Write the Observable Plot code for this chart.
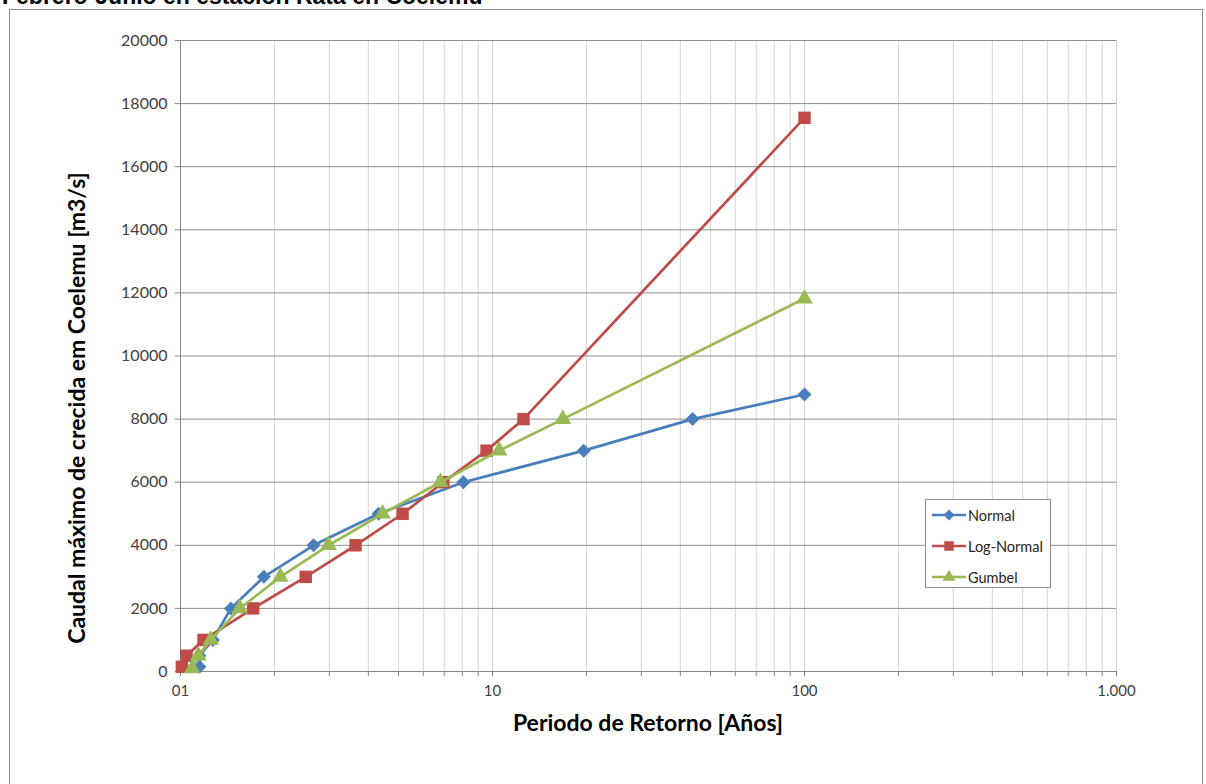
<!DOCTYPE html>
<html>
<head>
<meta charset="utf-8">
<script src="https://cdn.jsdelivr.net/npm/d3@7"></script>
<script src="https://cdn.jsdelivr.net/npm/@observablehq/plot@0.6"></script>
<style>
  html, body { margin: 0; padding: 0; background: #fff; overflow: hidden; }
  body { width: 1206px; height: 784px; position: relative; font-family: Lato, "Open Sans", sans-serif; }
  #title { position: absolute; left: 2px; top: -15px; font: bold 23px "Liberation Sans", Arial, sans-serif; color: #000; white-space: nowrap; line-height: 1; }
  #frame { position: absolute; left: 9px; top: 9px; width: 1194px; height: 800px; border: 1px solid #8c8c8c; box-sizing: border-box; background: #fff; }
  #chart { position: absolute; left: 0; top: 0; }
  #xtitle { position: absolute; left: 648px; top: 722px; transform: translate(-50%, -50%); font: bold 23px Lato, sans-serif; color: #000; white-space: nowrap; }
  #ytitle { position: absolute; left: 76px; top: 408px; transform: translate(-50%, -50%) rotate(-90deg); font: bold 23px Lato, sans-serif; color: #000; white-space: nowrap; }
  #legend { position: absolute; left: 925px; top: 499px; width: 126px; height: 89px; border: 1px solid #8c8c8c; box-sizing: border-box; background: #fff; }
  .lrow { position: absolute; left: 6px; height: 20px; display: flex; align-items: center; font: 14.5px Lato, sans-serif; color: #262626; }
  .lrow svg { margin-right: 2px; }
</style>
</head>
<body>
<div id="title">Febrero-Junio en estación Rata en Coelemu</div>
<div id="frame"></div>
<div id="chart"></div>
<div id="xtitle">Periodo de Retorno [Años]</div>
<div id="ytitle">Caudal máximo de crecida em Coelemu [m3/s]</div>
<div id="legend"></div>
<script>
// ---- data ----
const seriesNames = ["Normal", "Log-Normal", "Gumbel"];
const seriesColors = ["#4a7ebb", "#be4b48", "#98b954"];
const seriesSymbols = ["diamond2", "square", "triangle"];

const normalT = [1.15, 1.15, 1.27, 1.45, 1.85, 2.67, 4.31, 8.07, 19.6, 43.8, 100];
const normalQ = [150, 500, 1000, 2000, 3000, 4000, 5000, 6000, 7000, 8000, 8780];

const logNormalT = [1.01, 1.045, 1.185, 1.71, 2.52, 3.64, 5.15, 6.96, 9.57, 12.57, 100];
const logNormalQ = [150, 500, 1000, 2000, 3000, 4000, 5000, 6000, 7000, 8000, 17550];

const gumbelT = [1.09, 1.14, 1.25, 1.55, 2.09, 2.98, 4.44, 6.81, 10.5, 16.8, 100];
const gumbelQ = [100, 500, 1000, 2000, 3000, 4000, 5000, 6000, 7000, 8000, 11820];

const xMajorTicks = [1, 10, 100, 1000];
const xTickLabels = ["01", "10", "100", "1.000"];
const yTicks = [0, 2000, 4000, 6000, 8000, 10000, 12000, 14000, 16000, 18000, 20000];

// ---- build table ----
const seriesT = [normalT, logNormalT, gumbelT];
const seriesQ = [normalQ, logNormalQ, gumbelQ];
const data = seriesNames.flatMap((s, i) => seriesT[i].map((t, j) => ({series: s, T: t, Q: seriesQ[i][j]})));

const xMinor = [];
for (const d of [1, 10, 100]) for (let k = 1; k <= 9; k++) xMinor.push(d * k);
xMinor.push(1000);

const axisColor = "#868686";
const markerR = {"Normal": 6.3, "Log-Normal": 7.0, "Gumbel": 6.2};

const seriesMarks = seriesNames.flatMap((s, i) => [
  Plot.line(data.filter(d => d.series === s), {x: "T", y: "Q", stroke: seriesColors[i], strokeWidth: 2.7}),
  Plot.dot(data.filter(d => d.series === s), {x: "T", y: "Q", symbol: () => seriesSymbols[i], fill: seriesColors[i], stroke: "none", r: markerR[s]})
]);

const chart = Plot.plot({
  width: 1206,
  height: 784,
  marginTop: 40,
  marginBottom: 113,
  marginLeft: 180,
  marginRight: 90,
  style: {background: "transparent", fontFamily: "Lato, sans-serif", fontSize: "15px", color: "#404040", overflow: "visible"},
  x: {type: "log", domain: [1, 1000], axis: null},
  y: {domain: [0, 20000], axis: null},
  symbol: {domain: ["diamond2", "square", "triangle"], range: ["diamond2", "square", "triangle"]},
  marks: [
    Plot.ruleX(xMinor.filter(v => v > 1), {x: d => d, y1: 0, y2: 20000, stroke: "#d4d4d4", strokeWidth: 1}),
    Plot.ruleY(yTicks.filter(v => v > 0), {y: d => d, x1: 1, x2: 1000, stroke: "#8c8c8c", strokeWidth: 1}),
    // tick marks
    Plot.ruleX(xMinor, {x: d => d, y1: 0, y2: -160, stroke: axisColor}),
    Plot.ruleY(yTicks, {y: d => d, x1: 1, x2: 0.963, stroke: axisColor}),
    // axis lines
    Plot.ruleY([0], {x1: 1, x2: 1000, stroke: axisColor}),
    Plot.ruleX([1], {y1: 0, y2: 20000, stroke: axisColor}),
    // tick labels
    Plot.text(xMajorTicks, {x: d => d, y: 0, dy: 20, text: (d, i) => xTickLabels[i], fill: "#404040", fontSize: 15}),
    Plot.text(yTicks, {x: 1, y: d => d, dx: -13, text: d => String(d), textAnchor: "end", fill: "#404040", fontSize: 16}),
    ...seriesMarks
  ]
});
document.getElementById("chart").appendChild(chart);

// ---- legend ----
const legend = document.getElementById("legend");
const rowTops = [5, 36, 67];
seriesNames.forEach((s, i) => {
  const row = document.createElement("div");
  row.className = "lrow";
  row.style.top = rowTops[i] + "px";
  const sym = d3.symbol(i === 0 ? d3.symbolDiamond2 : i === 1 ? d3.symbolSquare : d3.symbolTriangle, i === 0 ? 75 : i === 1 ? 90 : 70)();
  row.innerHTML = `<svg width="34" height="20"><line x1="0" y1="10" x2="34" y2="10" stroke="${seriesColors[i]}" stroke-width="2.6"/><path d="${sym}" transform="translate(17,10)" fill="${seriesColors[i]}"/></svg><span>${s}</span>`;
  legend.appendChild(row);
});
</script>
</body>
</html>
